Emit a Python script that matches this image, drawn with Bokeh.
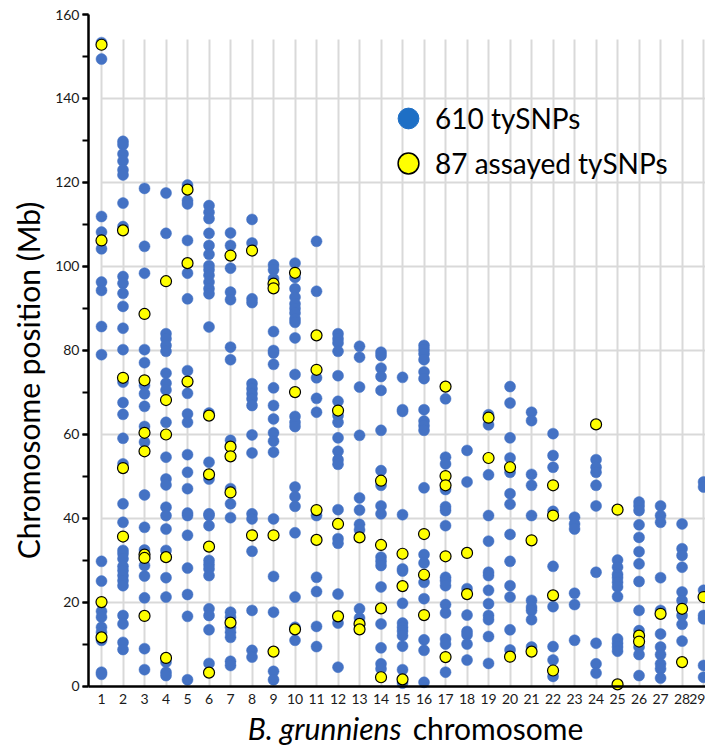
from bokeh.plotting import figure
from bokeh.models import (FixedTicker, SingleIntervalTicker, Range1d, Label,
                          Legend, LegendItem, ColumnDataSource)
from bokeh.embed import file_html
from bokeh.resources import INLINE

# ---------------- data ----------------
chromosomes = list(range(1, 30))

blue_positions = [
    [153.3, 149.4, 111.9, 108.2, 104.2, 96.3, 94.3, 85.7, 79.0, 29.8, 25.1, 17.9, 16.5, 14.1, 12.9, 11.0, 3.4, 2.9],
    [129.8, 129.0, 126.8, 125.1, 123.0, 121.8, 115.1, 109.5, 97.6, 96.0, 93.6, 90.5, 85.3, 80.2, 72.5, 67.6, 64.8,
     59.1, 53.0, 43.5, 39.1, 32.4, 31.6, 30.4, 28.6, 27.6, 26.4, 25.2, 24.0, 16.9, 14.9, 10.5, 8.8],
    [118.6, 104.8, 98.4, 80.2, 77.1, 71.7, 69.7, 66.7, 61.9, 58.2, 45.6, 37.9, 32.5, 28.8, 26.3, 21.1, 9.0, 4.0],
    [117.5, 107.9, 84.0, 82.8, 81.2, 79.8, 74.6, 72.2, 70.6, 62.9, 54.6, 49.4, 48.0, 42.7, 40.7, 37.5, 32.4, 25.9,
     21.3, 5.8, 3.4, 2.6],
    [119.4, 115.7, 114.9, 106.2, 98.4, 92.3, 75.2, 69.8, 64.9, 62.9, 55.2, 51.0, 47.1, 41.3, 40.7, 36.0, 28.2, 21.9,
     16.7, 1.6],
    [114.5, 112.9, 111.4, 107.9, 105.0, 102.9, 100.2, 99.2, 97.9, 96.3, 94.7, 93.5, 85.6, 65.1, 53.4, 49.4, 41.1,
     40.7, 38.3, 30.0, 29.0, 28.0, 26.4, 18.5, 16.9, 13.5, 5.5],
    [108.0, 105.0, 99.6, 93.9, 92.1, 80.8, 77.8, 58.6, 47.1, 43.5, 40.2, 17.7, 16.5, 14.1, 12.9, 11.7, 6.0, 5.0],
    [111.2, 105.6, 92.3, 91.4, 72.1, 70.9, 69.7, 68.5, 66.9, 59.9, 55.6, 41.1, 39.9, 32.2, 18.1, 8.6, 7.0],
    [100.4, 99.2, 97.1, 84.5, 80.0, 79.4, 76.7, 71.1, 66.9, 63.7, 60.4, 58.4, 55.8, 39.9, 26.2, 17.7, 3.6, 1.6],
    [100.8, 97.4, 94.7, 92.7, 91.1, 90.0, 88.9, 87.5, 86.7, 83.0, 74.3, 64.3, 62.9, 61.9, 47.5, 45.2, 42.9, 36.6,
     21.3, 14.1, 11.0],
    [106.0, 94.1, 73.5, 68.6, 65.3, 40.7, 26.0, 22.6, 14.3, 9.5],
    [84.0, 82.8, 81.8, 79.8, 74.0, 67.9, 64.5, 62.9, 59.2, 56.0, 54.0, 52.9, 42.1, 35.2, 34.1, 22.0, 15.1, 4.6],
    [81.0, 78.4, 71.3, 59.8, 44.9, 42.0, 38.6, 37.3, 18.5, 16.3],
    [79.6, 78.8, 75.8, 73.8, 70.5, 61.0, 51.4, 47.9, 43.0, 41.1, 30.8, 29.8, 28.8, 23.7, 14.9, 9.2, 5.4, 4.2],
    [73.6, 65.9, 65.5, 40.9, 28.0, 27.5, 19.8, 15.1, 14.1, 13.2, 12.1, 9.6, 4.0, 0.8],
    [81.2, 80.2, 79.2, 77.8, 74.9, 73.3, 65.9, 63.2, 62.1, 61.0, 47.3, 31.4, 29.4, 24.8, 20.9, 11.1, 8.6, 1.0],
    [68.5, 54.6, 53.0, 46.9, 42.8, 41.9, 38.3, 26.0, 25.2, 24.0, 19.5, 17.5, 11.3, 10.1, 3.4],
    [56.2, 48.7, 23.3, 17.0, 13.1, 12.3, 10.1, 6.3],
    [64.7, 62.3, 50.4, 40.7, 34.6, 27.2, 26.4, 22.9, 19.7, 16.9, 15.9, 11.9, 5.5],
    [71.4, 67.5, 59.2, 54.4, 51.0, 45.9, 43.4, 36.2, 29.8, 24.0, 21.3, 13.5, 8.7],
    [65.3, 63.3, 50.5, 47.9, 40.7, 20.5, 18.9, 18.1, 15.9, 9.4],
    [60.2, 55.0, 52.2, 41.7, 28.6, 19.0, 9.5, 6.3, 2.4],
    [40.3, 38.7, 37.5, 22.2, 19.5, 11.0],
    [54.0, 52.2, 51.0, 47.9, 43.0, 27.2, 10.3, 5.4, 3.2],
    [30.1, 28.4, 26.7, 25.9, 24.8, 23.7, 21.4, 11.3, 10.3, 9.4, 8.4],
    [43.9, 43.0, 41.9, 38.5, 35.5, 32.1, 29.2, 25.0, 18.1, 13.3, 9.4, 7.6, 2.6],
    [43.0, 40.7, 39.1, 25.9, 18.1, 12.5, 9.4, 7.6, 5.4, 4.2, 2.0],
    [38.7, 32.8, 31.2, 28.4, 22.5, 20.5, 16.9, 14.8, 10.8],
    [48.7, 47.5, 22.9, 16.9, 16.1, 5.0, 2.2],
]

yellow_positions = [
    [152.8, 106.2, 20.1, 11.7],
    [108.6, 73.5, 52.0, 35.7],
    [88.7, 72.9, 60.4, 56.0, 31.4, 30.6, 16.8],
    [96.5, 68.2, 60.0, 30.8, 6.8],
    [118.3, 100.8, 72.6],
    [64.5, 50.5, 33.3, 3.3],
    [102.6, 57.1, 54.8, 46.2, 15.2],
    [103.8, 36.0],
    [95.9, 94.8, 36.0, 8.3],
    [98.5, 70.1, 13.6],
    [83.6, 75.4, 42.0, 34.9],
    [65.7, 38.7, 16.7],
    [35.5, 14.9, 13.6],
    [49.0, 33.7, 18.6, 2.2],
    [31.6, 23.9, 1.7],
    [36.3, 26.6, 17.0],
    [71.4, 50.1, 47.9, 31.0, 7.0],
    [31.8, 22.0],
    [64.0, 54.4],
    [52.2, 7.1],
    [34.8, 8.3],
    [47.9, 40.7, 21.7, 3.8],
    [],
    [62.4],
    [42.1, 0.5],
    [12.1, 10.7],
    [17.3],
    [18.5, 5.8],
    [21.3],
]

legend_labels = ["610 tySNPs", "87 assayed tySNPs"]
y_ticks_interval = 20
y_grid_values = [20, 40, 60, 80, 100, 120, 140]

# ---------------- build sources ----------------
bx, by = [], []
for c, vals in zip(chromosomes, blue_positions):
    bx += [c] * len(vals)
    by += vals
yx, yy = [], []
for c, vals in zip(chromosomes, yellow_positions):
    yx += [c] * len(vals)
    yy += vals

blue_src = ColumnDataSource(dict(x=bx, y=by))
yel_src = ColumnDataSource(dict(x=yx, y=yy))

FONT = "Lato"

# the frame extends below y=0 so the x-axis title (a Label) is not clipped;
# the x-axis itself is pinned at y=0
p = figure(width=705, height=746, output_backend="svg", toolbar_location=None,
           x_range=Range1d(0.395, 29.09), y_range=Range1d(-14.29, 160),
           min_border_left=88, min_border_top=14, min_border_bottom=0, min_border_right=0)
p.outline_line_color = None
p.background_fill_color = "white"

# grids
p.xgrid.ticker = FixedTicker(ticks=chromosomes)
p.xgrid.grid_line_color = "#d9d9d9"
p.xgrid.grid_line_width = 2
p.xgrid.cross_bounds = (0, 154)
p.ygrid.ticker = FixedTicker(ticks=y_grid_values)
p.ygrid.grid_line_color = "#d9d9d9"
p.ygrid.grid_line_width = 2
p.ygrid.cross_bounds = (1, 30)

# axes
p.xaxis.fixed_location = 0
p.xaxis.ticker = FixedTicker(ticks=chromosomes)
p.xaxis.major_tick_out = 0
p.xaxis.major_tick_in = 0
p.xaxis.minor_tick_out = 0
p.xaxis.axis_line_width = 2.5
p.xaxis.axis_line_color = "black"
p.xaxis.major_label_text_font = FONT
p.xaxis.major_label_text_font_size = "14px"
p.xaxis.major_label_text_color = "#1a1a1a"
p.xaxis.major_label_standoff = 8

p.yaxis.bounds = (0, 160)
p.yaxis.ticker = SingleIntervalTicker(interval=y_ticks_interval, num_minor_ticks=2)
p.yaxis.axis_line_width = 2.5
p.yaxis.axis_line_color = "black"
p.yaxis.major_tick_out = 6
p.yaxis.major_tick_in = 0
p.yaxis.minor_tick_out = 6
p.yaxis.minor_tick_in = 0
p.yaxis.major_tick_line_width = 2
p.yaxis.minor_tick_line_width = 2
p.yaxis.major_tick_line_color = "black"
p.yaxis.minor_tick_line_color = "black"
p.yaxis.major_label_text_font = FONT
p.yaxis.major_label_text_font_size = "14px"
p.yaxis.major_label_text_color = "#1a1a1a"
p.yaxis.major_label_standoff = 3
p.yaxis.axis_label = "Chromosome position (Mb)"
p.yaxis.axis_label_text_font = FONT
p.yaxis.axis_label_text_font_size = "30px"
p.yaxis.axis_label_text_font_style = "normal"
p.yaxis.axis_label_text_color = "black"
p.yaxis.axis_label_standoff = 6

# data
blue_r = p.scatter("x", "y", source=blue_src, size=11, fill_color="#4472C4", line_color="#4472C4", line_width=0.5)
yel_r = p.scatter("x", "y", source=yel_src, size=11, fill_color="#FFFF00", line_color="black", line_width=1.2)

# legend proxies (hidden renderers, used only for legend glyph styling)
leg_b = p.scatter("x", "y", source=blue_src, size=11, fill_color="#1E6FC5", line_color="#1E6FC5", visible=False)
leg_y = p.scatter("x", "y", source=yel_src, size=11, fill_color="#FFFF00", line_color="black",
                  line_width=1.5, visible=False)

common = dict(glyph_width=52, glyph_height=52, padding=0, margin=0, label_standoff=1,
              background_fill_alpha=0, border_line_color=None,
              label_text_font=FONT, label_text_font_size="28px", label_text_color="black")
legend1 = Legend(items=[LegendItem(label=legend_labels[0], renderers=[leg_b])], location=(294, 602), **common)
legend2 = Legend(items=[LegendItem(label=legend_labels[1], renderers=[leg_y])], location=(294, 557), **common)
p.add_layout(legend1)
p.add_layout(legend2)

# x-axis title with italic species name
p.add_layout(Label(x=14.95, y=-9.9, text="B. grunniens",
                   text_font=FONT, text_font_size="30px", text_font_style="italic",
                   text_align="right", text_baseline="alphabetic", text_color="black"))
p.add_layout(Label(x=15.47, y=-9.9, text="chromosome",
                   text_font=FONT, text_font_size="30px", text_font_style="normal",
                   text_align="left", text_baseline="alphabetic", text_color="black"))

open("out.html", "w").write(file_html(p, INLINE))
